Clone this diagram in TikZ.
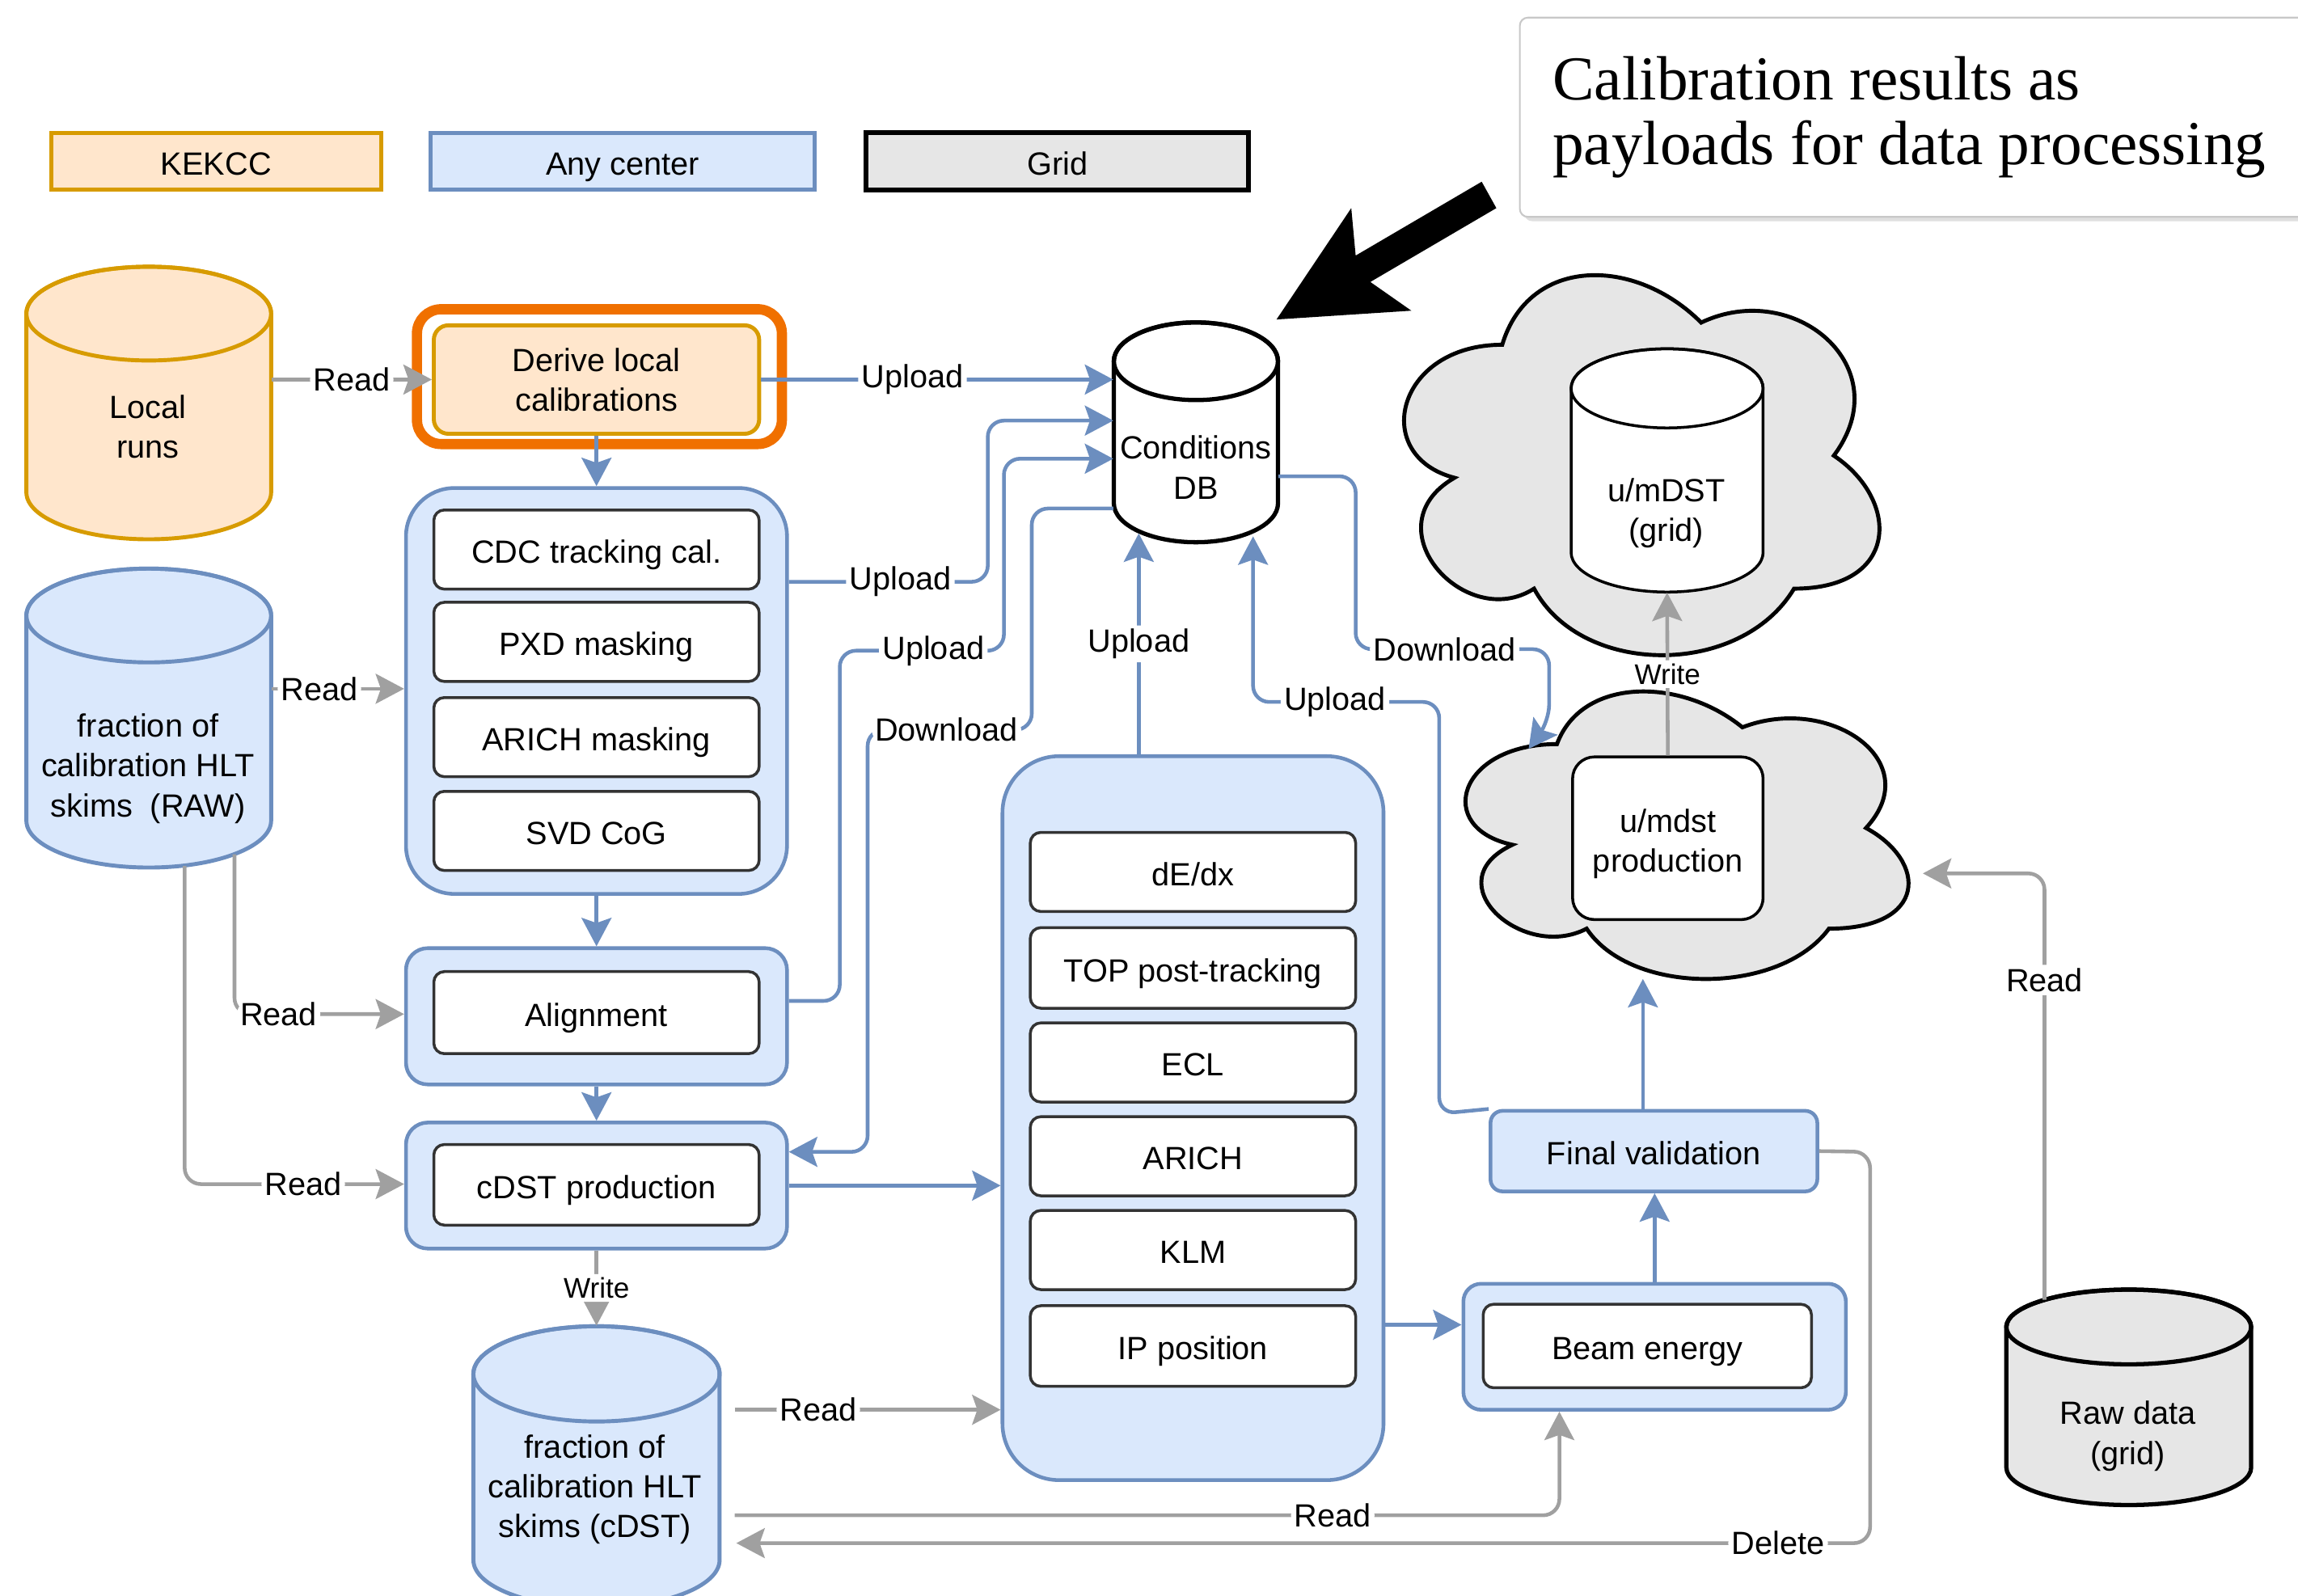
\documentclass[tikz,border=0pt]{standalone}
\usepackage{fontspec}
\setmainfont{Liberation Sans}
\newfontfamily\serifcallout{Liberation Serif}
\usetikzlibrary{arrows.meta,shadows}
\definecolor{bl}{HTML}{6C8EBF}
\definecolor{blf}{HTML}{DAE8FC}
\definecolor{orf}{HTML}{FFE6CC}
\definecolor{ors}{HTML}{D79B00}
\definecolor{gyf}{HTML}{E6E6E6}
\definecolor{gyl}{HTML}{A0A0A0}
\definecolor{hlo}{HTML}{F07000}
\definecolor{dk}{HTML}{333333}
\newcommand\uu{0.018125cm}
\newcommand\ft{\fontsize{11.3}{14}\selectfont}
\newcommand\cyl[6]{%
 \pgfmathsetmacro\cxr{#3/2}%
 \pgfmathsetmacro\cxc{#1+#3/2}%
 \pgfmathsetmacro\cyb{#2+#4-#5}%
 \pgfmathsetmacro\cyt{#2+#5}%
 \pgfmathsetmacro\cxe{#1+#3}%
 \path[#6] (#1,\cyt) -- (#1,\cyb) arc[start angle=180,end angle=0,x radius=\cxr,y radius=#5] -- (\cxe,\cyt) arc[start angle=0,end angle=-180,x radius=\cxr,y radius=#5] -- cycle;
 \path[#6,fill=none] (\cxc,\cyt) ellipse[x radius=\cxr,y radius=#5];
}
\newcommand\dcloud[4]{%
 \begin{scope}[shift={(#1,#2)}, x={(#3*0.018125cm,0pt)}, y={(0pt,-#4*0.018125cm)}]
 \path[cloudsty] (0.25,0.25) .. controls (0.05,0.25) and (0,0.5) .. (0.16,0.55)
   .. controls (0,0.66) and (0.18,0.9) .. (0.31,0.8)
   .. controls (0.4,1) and (0.7,1) .. (0.8,0.8)
   .. controls (1,0.8) and (1,0.6) .. (0.875,0.5)
   .. controls (1,0.3) and (0.8,0.1) .. (0.625,0.2)
   .. controls (0.5,0.05) and (0.3,0.05) .. (0.25,0.25) -- cycle;
 \end{scope}}
\tikzset{
  wh/.style 2 args={minimum width={#1*\uu},minimum height={#2*\uu}},
  txt/.style={font=\ft, align=center, inner sep=0pt},
  one/.style={text height=9.6pt, text depth=0pt},
  lbl/.style={font=\ft, fill=white, inner sep=1.2pt, text=black},
  wlbl/.style={font=\fontsize{10}{12}\selectfont, fill=white, inner sep=1.2pt, text=black},
  inbox/.style={draw=dk, fill=white, line width=1pt, rounded corners=0.13cm, font=\ft, inner sep=0pt, one},
  cont/.style={draw=bl, fill=blf, line width=1.3pt, inner sep=0pt},
  tipsty/.style={-{Stealth[length=10pt,width=10.5pt,inset=1.8pt]}},
  bla/.style={draw=bl, line width=1.3pt, rounded corners=0.2cm, tipsty},
  gya/.style={draw=gyl, line width=1.3pt, rounded corners=0.2cm, tipsty},
  legsty/.style={font=\ft, inner sep=0pt, line width=1.4pt, one},
  cylor/.style={draw=ors, fill=orf, line width=1.4pt},
  cylbl/.style={draw=bl, fill=blf, line width=1.4pt},
  cloudsty/.style={draw=black, fill=gyf, line width=1.4pt},
}
\begin{document}
\begin{tikzpicture}[x=0.018125cm, y=-0.018125cm]
\useasboundingbox (0,0) rectangle (1568,1089);
\clip (0,0) rectangle (1568,1089);

% legend
\node[legsty, draw=ors, fill=orf, wh={225}{39}] (legk) at (147.5,110) {KEKCC};
\node[legsty, draw=bl, fill=blf, wh={262}{39}] (lega) at (425,110) {Any center};
\node[legsty, draw=black, fill=gyf, line width=1.7pt, wh={261}{39}] (legg) at (721.5,110) {Grid};

% callout
\node[draw={rgb,255:red,200;green,200;blue,200}, fill=white, line width=0.6pt, rounded corners=0.1cm,
      drop shadow={shadow xshift=1.5pt, shadow yshift=-1.5pt, opacity=0.25}, wh={560}{136}] (callbox) at (1317,80) {};
\node[anchor=west, align=left, inner sep=0pt, font=\serifcallout\fontsize{22}{22.8}\selectfont] (calltext) at (1059,80)
  {Calibration results as\\payloads for data processing};
\fill[black] (1011,124) -- (925,174.4) -- (922,142) -- (871,218) -- (963,212) -- (935,192.4) -- (1021,142) -- cycle;

% clouds
\dcloud{934.5}{159.6}{362}{302.6}
\dcloud{978}{450.5}{337.4}{229}

% cylinders
\cyl{18}{182}{167}{186}{32}{cylor}
\node[wh={167}{186}, inner sep=0pt] (lr) at (101.5,275) {};
\node[txt] (lrt) at (101,291) {Local\\runs};

\cyl{18}{388}{167}{204}{32}{cylbl}
\node[wh={167}{204}, inner sep=0pt] (rawc) at (101.5,490) {};
\node[txt] (rawct) at (101,524.5) {fraction of\\calibration HLT\\skims\ \ (RAW)};

\cyl{760}{220}{112}{150}{26.5}{draw=black, fill=white, line width=1.5pt}
\node[wh={112}{150}, inner sep=0pt] (db) at (816,295) {};
\node[txt] (dbt) at (816,319) {Conditions\\DB};

\cyl{1072}{238}{131}{166}{27}{draw=black, fill=white, line width=1pt}
\node[wh={131}{166}, inner sep=0pt] (umdst) at (1137.5,321) {};
\node[txt] (umdstt) at (1137,350) {u/mDST\\(grid)};

\cyl{323}{905}{168}{192}{32.5}{cylbl}
\node[wh={168}{192}, inner sep=0pt] (cyl2) at (407,1001) {};
\node[txt] (cyl2t) at (406,1016.5) {fraction of\\calibration HLT\\skims (cDST)};

\cyl{1369}{880}{167}{147}{25.5}{draw=black, fill=gyf, line width=1.5pt}
\node[wh={167}{147}, inner sep=0pt] (raw) at (1452.5,953.5) {};
\node[txt] (rawt) at (1452,980) {Raw data\\(grid)};

% boxes
\node[draw=ors, fill=orf, line width=1.4pt, rounded corners=0.18cm, wh={222}{74}, txt] (der) at (407,259) {Derive local\\calibrations};

\node[cont, wh={260}{277}, rounded corners=0.6cm] (c1) at (407,471.5) {};
\node[inbox, wh={222}{54}] (cdc) at (407,375) {CDC tracking cal.};
\node[inbox, wh={222}{54}] (pxd) at (407,438) {PXD masking};
\node[inbox, wh={222}{54}] (arm) at (407,503) {ARICH masking};
\node[inbox, wh={222}{54}] (svd) at (407,567) {SVD CoG};

\node[cont, wh={260}{93}, rounded corners=0.27cm] (alc) at (407,693.5) {};
\node[inbox, wh={222}{56}] (al) at (407,691) {Alignment};

\node[cont, wh={260}{86}, rounded corners=0.27cm] (cdstc) at (407,809) {};
\node[inbox, wh={222}{55}] (cdst) at (407,808.5) {cDST production};

\node[cont, wh={260}{494}, rounded corners=0.7cm] (c2) at (814,763) {};
\node[inbox, wh={222}{54}] (dedx) at (814,595) {dE/dx};
\node[inbox, wh={222}{55}] (topt) at (814,660.5) {TOP post-tracking};
\node[inbox, wh={222}{54}] (ecl) at (814,725) {ECL};
\node[inbox, wh={222}{54}] (arich) at (814,789) {ARICH};
\node[inbox, wh={222}{54}] (klm) at (814,853) {KLM};
\node[inbox, wh={222}{55}] (ip) at (814,918.5) {IP position};

\node[draw=black, fill=white, line width=1pt, rounded corners=0.27cm, wh={130}{111}, inner sep=0pt] (ump) at (1138,572) {};
\node[txt] (umpt) at (1138,576) {u/mdst\\production};

\node[cont, wh={223}{55}, rounded corners=0.15cm, font=\ft, one] (fv) at (1128.5,785.5) {Final validation};
\node[cont, wh={261}{86}, rounded corners=0.22cm] (bc) at (1129,919) {};
\node[inbox, wh={224}{57}] (be) at (1124,918.5) {Beam energy};

% highlight
\node[draw=hlo, line width=3.6pt, rounded corners=0.3cm, wh={249}{92}, inner sep=0pt] (hl) at (409,257) {};

% blue connectors
\draw[bla] (der.south) -- (c1.north);
\draw[bla] (c1.south) -- (alc.north);
\draw[bla] (alc.south) -- (cdstc.north);
\draw[bla] (der.east) -- node[lbl,pos=0.43]{Upload} (db.west |- der.east);
\draw[bla] (c1.east |- 0,397) -- node[lbl,pos=0.56]{Upload} (674,397) -- (674,287) -- (db.west |- 0,287);
\draw[bla] (alc.east |- 0,683) -- (573,683) -- (573,444) -- node[lbl,pos=0.57]{Upload} (685,444) -- (685,313) -- (db.west |- 0,313);
\draw[bla] (db.west |- 0,347) -- (704,347) -- (704,498) -- node[lbl,pos=0.52]{Download} (592,498) -- (592,786) -- (cdstc.east |- 0,786);
\draw[bla] (cdstc.east) -- (c2.west |- cdstc.east);
\draw[bla] (c2.north -| 777,0) -- node[lbl]{Upload} (777,364);
\draw[bla] (fv.north west) -- (982,760) -- (982,479) -- node[lbl,pos=0.56]{Upload} (855,479) -- (855,366);
\draw[bla] (db.east |- 0,325) -- (925,325) -- (925,443) -- node[lbl,pos=0.46]{Download} (1057,443) -- (1057,492) -- (1043,511);
\draw[bla] (fv.north -| 1121,0) -- (1121,668);
\draw[bla] (bc.north) -- (fv.south -| bc.north);
\draw[bla] (c2.east |- 0,904) -- (bc.west |- 0,904);

% gray connectors
\coordinate (rawb1) at (160,583);
\coordinate (rawb2) at (126,591);
\coordinate (rawtop) at (1395,887);
\draw[gya] (lr.east |- der.west) -- node[lbl]{Read} (der.west);
\draw[gya] (rawc.east |- 0,470) -- node[lbl,pos=0.36]{Read} (c1.west |- 0,470);
\draw[gya] (rawb1) -- (160,692) -- node[lbl,pos=0.26]{Read} (alc.west |- 0,692);
\draw[gya] (rawb2) -- (126,808) -- node[lbl,pos=0.54]{Read} (cdstc.west |- 0,808);
\draw[gya] (ump.north) -- node[wlbl]{Write} (umdst.south);
\draw[gya] (cdstc.south) -- node[wlbl]{Write} (cyl2.north);
\draw[gya,shorten <=0.18cm] (cyl2.east |- 0,962) -- node[lbl,pos=0.35]{Read} (c2.west |- 0,962);
\draw[gya,shorten <=0.18cm] (cyl2.east |- 0,1034) -- node[lbl,pos=0.73]{Read} (1064,1034) -- (bc.south -| 1064,0);
\draw[gya,shorten >=0.2cm] (fv.east) -- (1276,786) -- (1276,1053) -- node[lbl,pos=0.08]{Delete} (cyl2.east |- 0,1053);
\draw[gya] (rawtop) -- node[lbl,pos=0.75]{Read} (1395,596) -- (1312,596);
\end{tikzpicture}
\end{document}
